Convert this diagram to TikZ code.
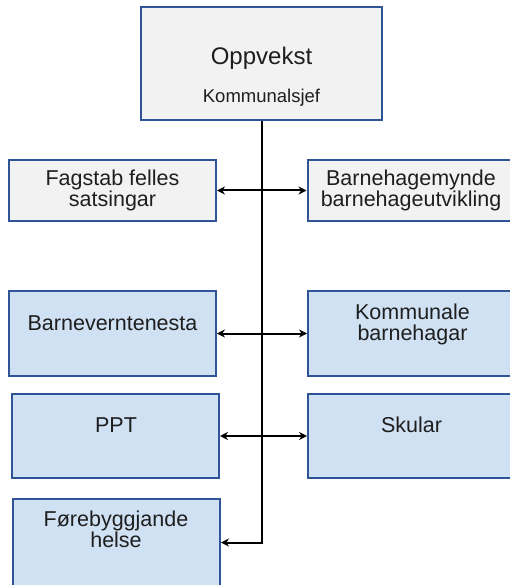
\documentclass[tikz,border=0pt]{standalone}
\usepackage{fontspec}
\setmainfont{Liberation Sans}
\usetikzlibrary{arrows.meta}
\definecolor{rammeblaa}{RGB}{47,85,151}
\definecolor{lysgraa}{RGB}{242,242,242}
\definecolor{lysblaa}{RGB}{208,225,243}
\definecolor{skrift}{RGB}{30,30,30}
\begin{document}
\begin{tikzpicture}[x=1pt, y=-1pt,
    eining/.style={draw=rammeblaa, line width=2pt, inner sep=0pt},
    stab/.style={eining, fill=lysgraa, minimum width=207pt, minimum height=61pt, tekst},
    teneste/.style={eining, fill=lysblaa, minimum width=207pt, minimum height=85pt},
    tekst/.style={font=\fontsize{21.5}{21}\selectfont, text=skrift, align=center, inner sep=0pt},
    linje/.style={line width=2pt, >={Stealth[length=8pt,width=8pt]}}]
    \useasboundingbox (0,0) rectangle (510,585);
    \clip (0,0) rectangle (510,585);
    % leiing
    \node[eining, fill=lysgraa, minimum width=241pt, minimum height=113pt] (oppvekst) at (261.5,63.5) {};
    \node[anchor=base, text=skrift, font=\fontsize{24}{24}\selectfont] (oppvekst-t) at (261.5,65) {Oppvekst};
    \node[anchor=base, text=skrift, font=\fontsize{18.5}{18.5}\selectfont] (sjef-t) at (261.5,102.5) {Kommunalsjef};
    % stab
    \node[stab] (fagstab) at (112.5,190.5) {Fagstab felles\\satsingar};
    \node[stab] (mynde) at (411,190.5) {Barnehagemynde\\barnehageutvikling};
    % tenester
    \node[teneste] (barnevern) at (112.5,333.5) {};
    \node[teneste] (barnehagar) at (411.5,333.5) {};
    \node[teneste, minimum height=84pt] (ppt) at (115.5,436) {};
    \node[teneste, minimum height=84pt] (skular) at (411.5,436) {};
    \node[teneste, minimum height=87pt] (helse) at (116.5,542.5) {};
    \node[tekst, anchor=base] (barnevern-t) at (112.5,330) {Barneverntenesta};
    \node[tekst, anchor=base] (barnehagar-t) at (412.5,340) {Kommunale\\barnehagar};
    \node[tekst, anchor=base] (ppt-t) at (116,432) {PPT};
    \node[tekst, anchor=base] (skular-t) at (411.5,432) {Skular};
    \node[tekst, anchor=base] (helse-t) at (116,547.5) {Førebyggjande\\helse};
    % linjer
    \draw[linje, ->] (oppvekst.south) |- (helse.east);
    \draw[linje, <->] (fagstab) -- (mynde);
    \draw[linje, <->] (barnevern) -- (barnehagar);
    \draw[linje, <->] (ppt) -- (skular);
\end{tikzpicture}
\end{document}
